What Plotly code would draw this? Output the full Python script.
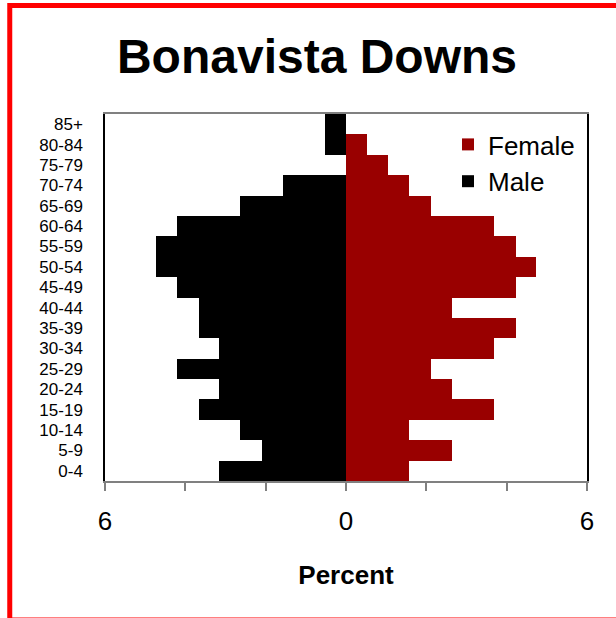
import plotly.graph_objects as go

ages = ["0-4", "5-9", "10-14", "15-19", "20-24", "25-29", "30-34", "35-39", "40-44",
        "45-49", "50-54", "55-59", "60-64", "65-69", "70-74", "75-79", "80-84", "85+"]
male = [3.15, 2.10, 2.63, 3.67, 3.15, 4.20, 3.15, 3.67, 3.67,
        4.20, 4.72, 4.72, 4.20, 2.63, 1.57, 0.00, 0.52, 0.52]
female = [1.57, 2.64, 1.57, 3.69, 2.64, 2.11, 3.69, 4.22, 2.64,
          4.22, 4.74, 4.22, 3.69, 2.11, 1.57, 1.05, 0.53, 0.00]
x_tickvals = [-6, -4, -2, 0, 2, 4, 6]
x_ticktext = ["6", "", "", "0", "", "", "6"]

FONT = "Arial, 'Liberation Sans', sans-serif"

fig = go.Figure()
fig.add_trace(go.Bar(
    y=ages, x=female, name="Female", orientation="h",
    marker=dict(color="#990000", line=dict(width=0)),
    width=1.0, legendgroup="f",
))
fig.add_trace(go.Bar(
    y=ages, x=[-v for v in male], name="Male", orientation="h",
    marker=dict(color="#000000", line=dict(width=0)),
    width=1.0, legendgroup="m",
    customdata=male, hovertemplate="%{y}: %{customdata}%<extra>Male</extra>",
))

W, H = 616, 618
L, R, T, B = 105, 29, 114, 137
pw, ph = W - L - R, H - T - B

fig.update_layout(
    width=W, height=H,
    margin=dict(l=L, r=R, t=T, b=B, pad=0),
    paper_bgcolor="white", plot_bgcolor="white",
    barmode="relative", bargap=0,
    font=dict(family=FONT, color="black"),
    title=dict(text="<b>Bonavista Downs</b>", font=dict(size=48, family=FONT, color="black"),
               x=317 / W, xref="container", xanchor="center",
               y=1 - 56 / H, yref="container", yanchor="middle"),
    showlegend=True,
    legend=dict(x=(448 - L) / pw, y=(481 - 121) / ph, xanchor="left", yanchor="top",
                font=dict(size=26, family=FONT), bgcolor="rgba(0,0,0,0)",
                traceorder="normal", tracegroupgap=8, itemsizing="constant"),
    xaxis=dict(range=[-6, 6], tickvals=x_tickvals, ticktext=x_ticktext,
               showgrid=False, zeroline=False,
               showline=True, linecolor="#808080", linewidth=2, mirror=True,
               ticks="outside", ticklen=8, tickwidth=1.5, tickcolor="#808080",
               tickfont=dict(size=26, family=FONT), ticklabelstandoff=8,
               title=dict(text="<b>Percent</b>", font=dict(size=26, family=FONT), standoff=31),
               fixedrange=True),
    yaxis=dict(type="category", categoryorder="array", categoryarray=ages,
               range=[-0.5, 17.5], showgrid=False, zeroline=False,
               showline=True, linecolor="black", linewidth=1.5, mirror=True,
               ticks="", tickfont=dict(size=17, family=FONT), ticklabelstandoff=17,
               fixedrange=True),
)

# red frame around the whole chart (as in the reference image)
fig.add_shape(type="rect", xref="paper", yref="paper",
              x0=(9.75 - L) / pw, x1=(640 - L) / pw,
              y0=(H - B - 620) / ph, y1=(H - B - 5.5) / ph,
              line=dict(color="#ff0000", width=5), fillcolor="rgba(0,0,0,0)", layer="above")

fig.write_html("out.html", config={"displayModeBar": False},
               post_script="document.body.style.margin='0';document.body.style.overflow='hidden';")
